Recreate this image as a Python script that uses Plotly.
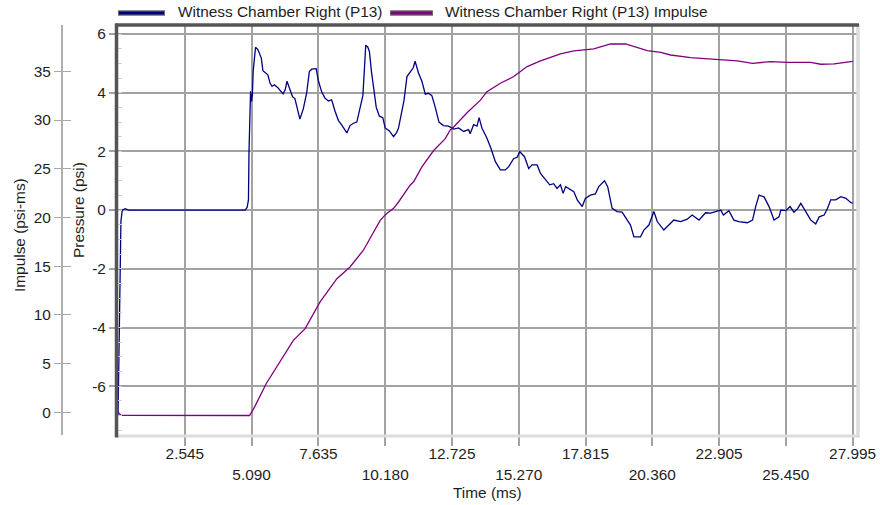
import plotly.graph_objects as go

# ---- data -------------------------------------------------------------
pressure_time = [
    0.00, 0.04, 0.06, 0.08, 0.11, 0.16, 0.27, 0.40, 4.85, 4.92, 4.97, 4.99,
    5.03, 5.05, 5.09, 5.12, 5.15, 5.24, 5.33, 5.46, 5.52, 5.61, 5.71, 5.79,
    5.87, 5.96, 6.10, 6.29, 6.37, 6.44, 6.54, 6.65, 6.74, 6.84, 6.93, 7.06,
    7.19, 7.29, 7.38, 7.55, 7.64, 7.76, 7.89, 8.02, 8.14, 8.27, 8.40, 8.52,
    8.62, 8.72, 8.84, 8.97, 9.10, 9.22, 9.33, 9.38, 9.44, 9.52, 9.58, 9.66,
    9.73, 9.84, 9.96, 10.09, 10.18, 10.34, 10.50, 10.62, 10.69, 10.82, 10.90,
    11.01, 11.16, 11.25, 11.32, 11.45, 11.58, 11.71, 11.83, 11.96, 12.09,
    12.23, 12.40, 12.60, 12.79, 12.98, 13.17, 13.36, 13.42, 13.55, 13.68,
    13.76, 13.87, 14.06, 14.21, 14.38, 14.57, 14.76, 14.89, 15.08, 15.21,
    15.31, 15.49, 15.65, 15.78, 15.97, 16.10, 16.29, 16.45, 16.60, 16.73,
    16.86, 16.96, 17.06, 17.18, 17.37, 17.50, 17.69, 17.81, 18.00, 18.19,
    18.32, 18.54, 18.66, 18.83, 19.02, 19.21, 19.40, 19.53, 19.66, 19.91,
    20.04, 20.23, 20.42, 20.55, 20.80, 20.99, 21.18, 21.44, 21.69, 21.88,
    22.14, 22.39, 22.58, 22.77, 22.97, 23.07, 23.28, 23.47, 23.66, 23.98,
    24.18, 24.30, 24.43, 24.62, 24.81, 25.00, 25.19, 25.26, 25.45, 25.61,
    25.76, 25.90, 26.02, 26.21, 26.40, 26.59, 26.72, 26.91, 27.04, 27.16,
    27.35, 27.55, 27.74, 27.93, 28.00,
]
pressure_psi = [
    -6.98, -3.80, -3.45, -1.55, -0.38, 0.00, 0.05, 0.00, 0.00, 0.10, 0.35, 1.95,
    3.70, 4.05, 3.70, 3.95, 4.73, 5.55, 5.47, 5.18, 4.75, 4.67, 4.61, 4.33,
    4.22, 4.27, 4.16, 3.96, 4.10, 4.39, 4.14, 3.86, 3.80, 3.45, 3.10, 3.45,
    4.00, 4.72, 4.80, 4.82, 4.39, 4.03, 3.81, 3.72, 3.76, 3.37, 3.05, 2.90,
    2.75, 2.63, 2.88, 2.96, 3.00, 3.50, 3.90, 4.66, 5.62, 5.55, 5.40, 4.70,
    4.18, 3.50, 3.20, 3.15, 2.80, 2.70, 2.50, 2.65, 2.80, 3.41, 3.75,
    4.55, 4.75, 4.85, 5.07, 4.67, 4.39, 3.95, 3.98, 3.90, 3.50,
    3.00, 2.88, 2.86, 2.76, 2.80, 2.68, 2.74, 2.60, 2.91, 2.86,
    3.15, 2.79, 2.45, 2.11, 1.65, 1.37, 1.37, 1.48, 1.76, 1.80,
    1.99, 1.82, 1.42, 1.54, 1.54, 1.25, 1.03, 0.86, 0.90, 0.74,
    0.86, 0.57, 0.80, 0.74, 0.63, 0.35, 0.12, 0.40, 0.51, 0.55,
    0.80, 1.00, 0.80, 0.06, -0.05, -0.07, -0.34, -0.51, -0.91, -0.91,
    -0.68, -0.51, -0.05, -0.39, -0.68, -0.51, -0.34, -0.39, -0.31, -0.17,
    -0.34, -0.09, -0.10, -0.05, 0.00, -0.17, -0.02, -0.34, -0.39, -0.43,
    -0.34, 0.12, 0.51, 0.45, 0.12, -0.34, -0.23, 0.00, -0.02, 0.12,
    -0.07, 0.05, 0.23, -0.05, -0.34, -0.47, -0.23, -0.17, 0.06, 0.35,
    0.35, 0.46, 0.40, 0.25, 0.24,
]

impulse_time = [
    0.00, 0.06, 0.12, 5.01, 5.21, 5.65, 6.10, 6.54, 6.68, 7.13, 7.70, 8.34,
    8.84, 9.35, 9.73, 9.99, 10.12, 10.24, 10.50, 10.69, 11.13, 11.27, 11.58,
    12.02, 12.47, 12.66, 12.79, 13.30, 13.81, 14.06, 14.57, 15.08, 15.59,
    16.10, 16.86, 17.37, 18.13, 18.77, 19.34, 19.79, 20.17, 20.68, 21.06,
    21.82, 22.97, 23.60, 24.18, 24.87, 25.51, 26.40, 26.78, 27.29, 27.93,
    28.00,
]
impulse_psims = [
    0.00, -0.20, -0.32, -0.33, 0.58, 2.96, 4.86, 6.74, 7.39, 8.59, 11.33, 13.72,
    14.92, 16.64, 18.51, 19.71, 20.09, 20.40, 20.94, 21.59, 23.31, 23.69, 25.19,
    26.85, 28.10, 28.98, 29.29, 30.75, 32.05, 32.92, 33.78, 34.47, 35.49,
    36.07, 36.79, 37.10, 37.30, 37.81, 37.81, 37.47, 37.13, 36.96, 36.68,
    36.42, 36.24, 36.07, 35.83, 36.00, 35.93, 35.93, 35.73, 35.76, 36.00,
    36.02,
]

time_ticks = [2.545 * k for k in range(1, 12)]
time_tick_labels = [f"{v:.3f}" for v in time_ticks]
pressure_ticks = [-6, -4, -2, 0, 2, 4, 6]
pressure_tick_labels = ["-6", "-4", "-2", "0", "2", "4", "6"]
impulse_ticks = [0, 5, 10, 15, 20, 25, 30, 35]

series_names = ["Witness Chamber Right (P13)", "Witness Chamber Right (P13) Impulse"]
series_colors = ["#000080", "#800080"]

# ---- page geometry (pixels) ------------------------------------------
W, H = 880, 505
ML, MR, MT, MB = 0, 22, 25, 70
PW = W - ML - MR
PH = H - MT - MB


def fx(px):
    return (px - ML) / PW


def fy(py):
    return (H - MB - py) / PH


FONT = "Liberation Sans, Arial, sans-serif"
FS = 15.4
TXT = "#1e1e1e"
GRID = "#a2a2a2"

# alternate the time labels on two rows
staggered = [lab if i % 2 == 0 else "<br>" + lab for i, lab in enumerate(time_tick_labels)]

fig = go.Figure()
fig.add_trace(go.Scatter(
    x=pressure_time, y=pressure_psi, mode="lines", name=series_names[0],
    line=dict(color=series_colors[0], width=1.3), yaxis="y",
))
fig.add_trace(go.Scatter(
    x=impulse_time, y=impulse_psims, mode="lines", name=series_names[1],
    line=dict(color=series_colors[1], width=1.3), yaxis="y2",
))
# carrier for the inner half of the impulse axis ticks
fig.add_trace(go.Scatter(x=[], y=[], yaxis="y3", showlegend=False, hoverinfo="skip"))

fig.update_layout(
    width=W, height=H,
    margin=dict(l=ML, r=MR, t=MT, b=MB),
    paper_bgcolor="white", plot_bgcolor="white",
    font=dict(family=FONT, size=FS, color=TXT),
    showlegend=False,
    xaxis=dict(
        domain=[fx(117), 1], range=[-0.04, 28.2],
        tickmode="array", tickvals=time_ticks, ticktext=staggered,
        ticks="outside", ticklen=10, tickwidth=1.5, tickcolor=GRID,
        ticklabelstandoff=-5,
        showgrid=True, gridcolor=GRID, gridwidth=1.6,
        zeroline=False, showline=False, automargin=False,
        tickfont=dict(size=FS, color=TXT),
    ),
    yaxis=dict(
        range=[-7.663, 6.307],
        tickmode="array", tickvals=pressure_ticks, ticktext=pressure_tick_labels,
        ticks="outside", ticklen=7, tickwidth=1.5, tickcolor=GRID,
        showgrid=True, gridcolor=GRID, gridwidth=1.6,
        zeroline=False, showline=False, automargin=False,
        minor=dict(tickmode="linear", tick0=0, dtick=0.5, ticks="inside",
                   ticklen=5, tickwidth=1, tickcolor="#d0d0d0", showgrid=False),
        tickfont=dict(size=FS, color=TXT),
    ),
    yaxis2=dict(
        overlaying="y", anchor="free", position=fx(62), side="left",
        range=[-2.33, 39.76],
        tickmode="array", tickvals=impulse_ticks,
        ticks="outside", ticklen=7, tickwidth=1.2, tickcolor="#a8a8a8",
        showline=True, linecolor="#b0b0b0", linewidth=2,
        showgrid=False, zeroline=False, automargin=False,
        tickfont=dict(size=FS, color=TXT),
    ),
    yaxis3=dict(
        overlaying="y", anchor="free", position=fx(62), side="left",
        range=[-2.33, 39.76],
        tickmode="array", tickvals=impulse_ticks,
        ticks="inside", ticklen=8, tickwidth=1.2, tickcolor="#a8a8a8",
        showticklabels=False, showline=False, showgrid=False, zeroline=False,
    ),
)

# sunken plot frame: dark top/left, light bottom/right
frame = [
    ((115.5, 436), (859, 436), "#dcdcdc", 3),
    ((858, 24), (858, 437.5), "#dcdcdc", 3.5),
    ((115.5, 25), (859, 25), "#555555", 3.5),
    ((116.5, 23.5), (116.5, 437.5), "#555555", 3.5),
]
for (x0, y0), (x1, y1), col, w in frame:
    fig.add_shape(type="line", xref="paper", yref="paper",
                  x0=fx(x0), y0=fy(y0), x1=fx(x1), y1=fy(y1),
                  line=dict(color=col, width=w), layer="above")

# legend row along the top edge
legend_items = [(118, 165, 176), (390, 433, 443)]
for (s0, s1, tx), name, col in zip(legend_items, series_names, series_colors):
    fig.add_shape(type="line", xref="paper", yref="paper",
                  x0=fx(s0), y0=fy(13), x1=fx(s1), y1=fy(13),
                  line=dict(color="#6a6a6a", width=5.5))
    fig.add_shape(type="line", xref="paper", yref="paper",
                  x0=fx(s0 + 1), y0=fy(13), x1=fx(s1 - 1), y1=fy(13),
                  line=dict(color=col, width=3))
    fig.add_annotation(text=name, xref="paper", yref="paper",
                       x=fx(tx), y=fy(11.5), xanchor="left", yanchor="middle",
                       showarrow=False, font=dict(size=FS, color=TXT))

# axis titles
fig.add_annotation(text="Time (ms)", xref="paper", yref="paper",
                   x=fx(487.5), y=fy(492), xanchor="center", yanchor="middle",
                   showarrow=False, font=dict(size=FS, color=TXT))
fig.add_annotation(text="Impulse (psi-ms)", xref="paper", yref="paper",
                   x=fx(19), y=fy(235), xanchor="center", yanchor="middle",
                   textangle=-90, showarrow=False, font=dict(size=FS, color=TXT))
fig.add_annotation(text="Pressure (psi)", xref="paper", yref="paper",
                   x=fx(79), y=fy(210), xanchor="center", yanchor="middle",
                   textangle=-90, showarrow=False, font=dict(size=FS, color=TXT))

fig.write_html("out.html")
